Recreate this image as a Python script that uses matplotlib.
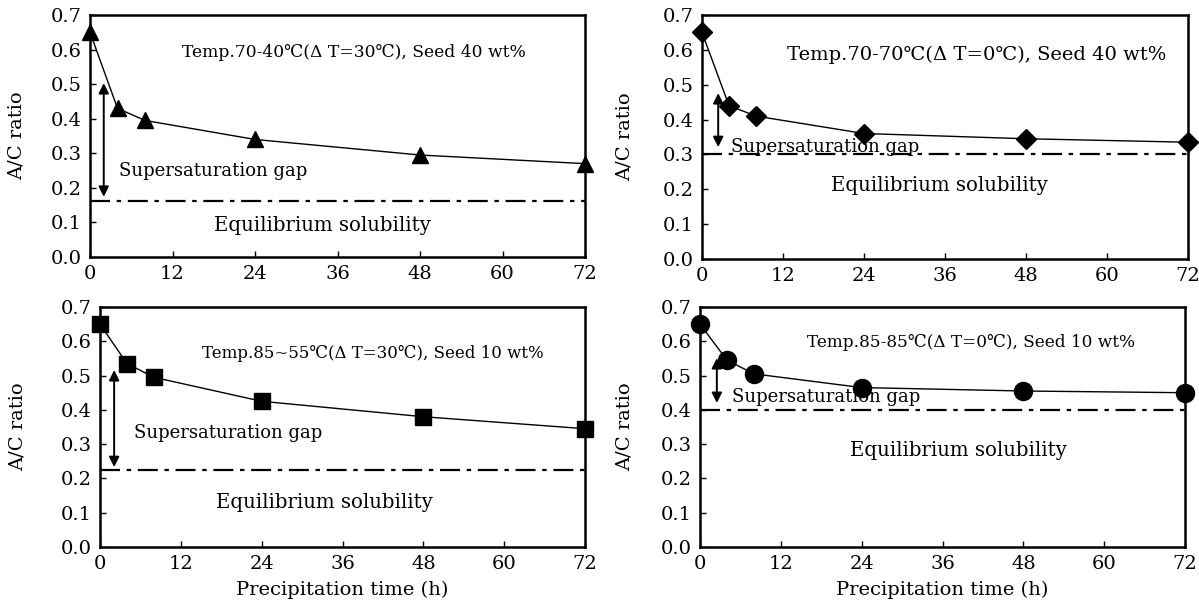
import matplotlib
matplotlib.use("Agg")
import matplotlib.pyplot as plt

plt.rcParams['font.family'] = ['DejaVu Serif', 'DejaVu Sans', 'Noto Sans CJK KR']

time_h = [0, 4, 8, 24, 48, 72]
ac_70_40 = [0.65, 0.43, 0.395, 0.34, 0.295, 0.27]
ac_70_70 = [0.65, 0.44, 0.41, 0.36, 0.345, 0.335]
ac_85_55 = [0.65, 0.535, 0.495, 0.425, 0.38, 0.345]
ac_85_85 = [0.65, 0.545, 0.505, 0.465, 0.455, 0.45]
eq_levels = [0.163, 0.300, 0.225, 0.400]
gap_tops = [0.503, 0.476, 0.516, 0.551]
gap_bottoms = [0.174, 0.321, 0.233, 0.42]
gap_x = [2.0, 2.4, 2.1, 2.5]
titles = ["Temp.70-40℃(Δ T=30℃), Seed 40 wt%",
          "Temp.70-70℃(Δ T=0℃), Seed 40 wt%",
          "Temp.85~55℃(Δ T=30℃), Seed 10 wt%",
          "Temp.85-85℃(Δ T=0℃), Seed 10 wt%"]
markers = ['^', 'D', 's', 'o']
marker_sizes = [12, 10, 12, 13]
series = [ac_70_40, ac_70_70, ac_85_55, ac_85_85]
x_ticks = [0, 12, 24, 36, 48, 60, 72]
y_ticks = [0.0, 0.1, 0.2, 0.3, 0.4, 0.5, 0.6, 0.7]

W, H = 1199, 610
fig = plt.figure(figsize=(W / 100, H / 100), dpi=100)

# pixel boxes: (x0, x72, ytop, ybottom)
boxes = [(90, 585, 15, 257), (702, 1188, 15, 259), (100, 585, 307, 547), (700, 1185, 307, 547)]
title_pos = [(0.186, 0.847), (0.175, 0.836), (0.21, 0.808), (0.221, 0.854)]
title_fs = [12.3, 14, 12, 12.2]
gap_pos = [(0.058, 0.355), (0.06, 0.46), (0.071, 0.475), (0.067, 0.625)]
eq_pos = [(0.469, 0.132), (0.489, 0.303), (0.462, 0.1875), (0.533, 0.404)]
ylabel_x = [17, 625, 18, 625]

for i in range(4):
    x0, x1, yt, yb = boxes[i]
    ax = fig.add_axes([x0 / W, 1 - yb / H, (x1 - x0) / W, (yb - yt) / H])
    ax.plot(time_h, series[i], color='black', lw=1.0, marker=markers[i],
            ms=marker_sizes[i], mfc='black', mec='black', clip_on=False, zorder=5)
    ax.axhline(eq_levels[i], color='black', lw=1.6, linestyle=(0, (9, 3, 2, 3)))
    ax.annotate('', xy=(gap_x[i], gap_bottoms[i]), xytext=(gap_x[i], gap_tops[i]),
                arrowprops=dict(arrowstyle='<|-|>', color='black', lw=1.4,
                                mutation_scale=15, shrinkA=0, shrinkB=0))
    ax.text(*title_pos[i], titles[i], transform=ax.transAxes, fontsize=title_fs[i],
            ha='left', va='center')
    ax.text(*gap_pos[i], "Supersaturation gap", transform=ax.transAxes, fontsize=13,
            ha='left', va='center')
    ax.text(*eq_pos[i], "Equilibrium solubility", transform=ax.transAxes, fontsize=14.2,
            ha='center', va='center')
    ax.set_xlim(0, 72)
    ax.set_ylim(0, 0.7)
    ax.set_xticks(x_ticks)
    ax.set_yticks(y_ticks)
    ax.set_yticklabels([f"{v:.1f}" for v in y_ticks])
    ax.tick_params(direction='in', length=4, width=1, labelsize=14, pad=6)
    for s in ax.spines.values():
        s.set_linewidth(1.8)
    fig.text(ylabel_x[i] / W, 1 - ((yt + yb) / 2) / H, "A/C ratio", rotation=90,
             ha='center', va='center', fontsize=14)
    if i >= 2:
        ax.set_xlabel("Precipitation time (h)", fontsize=14, labelpad=5)

fig.savefig("out.png", dpi=100)
